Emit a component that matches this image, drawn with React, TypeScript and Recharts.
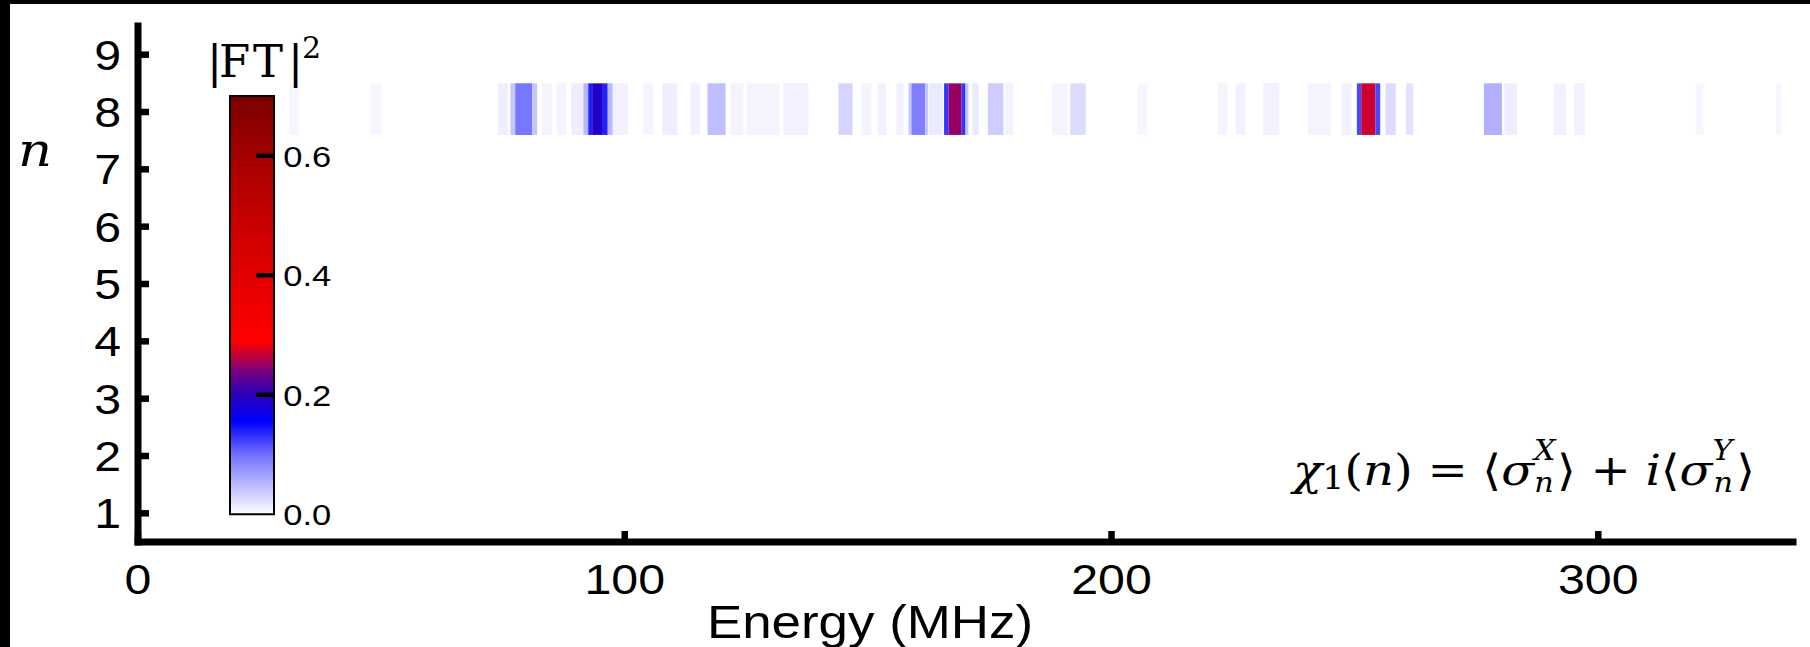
import React from 'react';
import { ComposedChart, BarChart, Bar, XAxis, YAxis, ReferenceArea, Scatter } from 'recharts';

// n = 8 row of the spectrum: energy bins (MHz) and |FT|^2
const binLo = [
  31, 47.7, 74, 76.5, 77.5, 81, 83, 86, 89, 91.5, 92.5, 93.3, 95.5, 96.5, 97.6,
  103.8, 107.7, 113.5, 117, 121.7, 125, 132.6, 143.9, 148.6, 151.9, 155.8, 158.3,
  158.9, 161.7, 162.4, 165.6, 166.5, 169.2, 170, 171.4, 174.6, 178.2, 187.8, 191.5,
  205.3, 221.8, 225.5, 231.2, 240.3, 247.3, 250.4, 251.3, 254.2, 256.3, 260.5,
  276.5, 280.7, 290.8, 295, 320, 336.5,
];
const binHi = [
  33, 50, 76, 77.5, 81, 82, 85, 88, 91.5, 92.5, 93.3, 95.5, 96.5, 97.5, 100.7,
  105.9, 110.8, 115.5, 120.7, 124.4, 131.8, 137.7, 146.8, 150.7, 153.7, 157.3, 158.9,
  161.7, 162.3, 165.3, 166.5, 169.2, 170, 170.6, 172.7, 177.8, 179.8, 191, 194.7,
  207.4, 223.8, 227.5, 234.5, 245.1, 249.3, 251.3, 254.2, 255.2, 258.4, 262,
  280.2, 283.3, 293.4, 297.2, 321.6, 337.6,
];
const binFT2 = [
  0.006, 0.006, 0.012, 0.04, 0.095, 0.04, 0.008, 0.008, 0.012, 0.05, 0.14, 0.19, 0.14, 0.05, 0.01,
  0.008, 0.012, 0.01, 0.045, 0.008, 0.008, 0.01, 0.03, 0.008, 0.01, 0.01, 0.04,
  0.09, 0.04, 0.015, 0.13, 0.25, 0.13, 0.04, 0.015, 0.035, 0.01, 0.008, 0.025,
  0.006, 0.008, 0.01, 0.01, 0.008, 0.01, 0.12, 0.27, 0.12, 0.025, 0.02,
  0.055, 0.012, 0.01, 0.01, 0.006, 0.006,
];

const rowLow = 7.6;
const rowHigh = 8.5;

const energyTicks = [0, 100, 200, 300];
const nTicks = [1, 2, 3, 4, 5, 6, 7, 8, 9];
const scaleTicks = [0, 0.2, 0.4, 0.6];
const scaleMax = 0.7;

// colour map of the |FT|^2 scale
const mapStops = [0, 0.05, 0.1, 0.155, 0.2, 0.24, 0.265, 0.29, 0.45, 0.6, 0.7];
const mapColors = ['#ffffff', '#b8b8ff', '#7070ff', '#0000ff', '#2a00b8', '#7a0080', '#c0003a', '#ff0000', '#d40000', '#a40000', '#7a0000'];

const sans = '"Liberation Sans", Arial, sans-serif';
const serif = '"DejaVu Serif", serif';
const widen = 1.15; // the figure's lettering is a bit wider than Arial

function rgb(hex: string) {
  const n = parseInt(hex.slice(1), 16);
  return [(n >> 16) & 255, (n >> 8) & 255, n & 255];
}

function ftColor(v: number) {
  const t = Math.max(0, Math.min(v, scaleMax));
  let i = 0;
  while (i < mapStops.length - 2 && t > mapStops[i + 1]) i++;
  const f = (t - mapStops[i]) / (mapStops[i + 1] - mapStops[i]);
  const a = rgb(mapColors[i]);
  const b = rgb(mapColors[i + 1]);
  const c = a.map((ch, k) => Math.round(ch + (b[k] - ch) * f));
  return `rgb(${c[0]},${c[1]},${c[2]})`;
}

const frameLine = { stroke: '#000', strokeWidth: 7, strokeLinecap: 'square' as const };
const tickLine = { stroke: '#000', strokeWidth: 6.5 };
const blank = () => '';

function Wide({ x, y, anchor, dy, size, children }: any) {
  return (
    <text transform={`translate(${x},${y}) scale(${widen},1)`} textAnchor={anchor} dy={dy}
      fontSize={size} fontFamily={sans} fill="#000">
      {children}
    </text>
  );
}

function NTick({ x, y, payload }: any) {
  return <Wide x={x} y={y} anchor="end" dy="0.36em" size={42}>{payload.value}</Wide>;
}

function EnergyTick({ x, y, payload }: any) {
  return <Wide x={x} y={y} anchor="middle" dy="0.71em" size={42}>{payload.value}</Wide>;
}

function ScaleTick({ x, y, payload }: any) {
  const edge = x - 9;
  return (
    <g>
      {payload.value > 0 && <line x1={edge - 18} x2={edge} y1={y} y2={y} stroke="#000" strokeWidth={4.5} />}
      <Wide x={x} y={y} anchor="start" dy="0.36em" size={30}>{payload.value.toFixed(1)}</Wide>
    </g>
  );
}

export default function App() {
  const cells = binLo.map((lo, i) => ({ lo, hi: binHi[i], x: (lo + binHi[i]) / 2, y: 8, v: binFT2[i] }));
  const scaleData = [{ name: 'FT', v: scaleMax }];

  return (
    <div style={{ position: 'absolute', left: 0, top: 0, width: 1810, height: 647, background: '#fff', overflow: 'hidden' }}>
      <div style={{ position: 'absolute', left: 0, top: 0 }}>
        <ComposedChart width={1810} height={647} data={cells} margin={{ top: 26, right: 17, bottom: 0, left: 0 }}>
          <XAxis xAxisId="b" type="number" dataKey="x" domain={[0, 340]} ticks={energyTicks} interval={0}
            height={105} tickSize={-11} tickMargin={33} axisLine={frameLine} tickLine={tickLine} tick={<EnergyTick />} allowDataOverflow />
          <XAxis xAxisId="t" orientation="top" type="number" dataKey="x" domain={[0, 340]} ticks={energyTicks} interval={0}
            height={0} tickSize={-11} tickFormatter={blank} axisLine={frameLine} tickLine={tickLine} allowDataOverflow />
          <YAxis yAxisId="l" type="number" domain={[0.5, 9.5]} ticks={nTicks} interval={0}
            width={138} tickSize={-11} tickMargin={28} axisLine={frameLine} tickLine={tickLine} tick={<NTick />} allowDataOverflow />
          <YAxis yAxisId="r" orientation="right" type="number" domain={[0.5, 9.5]} ticks={nTicks} interval={0}
            width={0} tickSize={-11} tickFormatter={blank} axisLine={frameLine} tickLine={tickLine} allowDataOverflow />
          {cells.map((c, i) => (
            <ReferenceArea key={i} xAxisId="b" yAxisId="l" x1={c.lo} x2={c.hi} y1={rowLow} y2={rowHigh}
              fill={ftColor(c.v)} fillOpacity={1} stroke="none" ifOverflow="visible" />
          ))}
          <Scatter xAxisId="b" yAxisId="l" dataKey="y" isAnimationActive={false} shape={() => <g />} />
        </ComposedChart>
      </div>

      <div style={{ position: 'absolute', left: 0, top: 0 }}>
        <BarChart width={400} height={647} data={scaleData} barCategoryGap={0}
          margin={{ top: 96, right: 65.7, bottom: 132.7, left: 230 }}>
          <XAxis dataKey="name" hide />
          <YAxis orientation="right" type="number" domain={[0, scaleMax]} ticks={scaleTicks} interval={0}
            width={60} tickSize={0} tickMargin={9} axisLine={false} tickLine={false} tick={<ScaleTick />} />
          <Bar dataKey="v" fill="url(#ftScale)" stroke="#000" strokeWidth={2} isAnimationActive={false} />
        </BarChart>
      </div>

      <svg width={1810} height={647} style={{ position: 'absolute', left: 0, top: 0 }}>
        <defs>
          <linearGradient id="ftScale" x1="0" y1="1" x2="0" y2="0">
            {mapStops.map((s, i) => (
              <stop key={i} offset={s / scaleMax} stopColor={mapColors[i]} />
            ))}
          </linearGradient>
        </defs>
        <text transform="translate(35,166) scale(1.15,1)" textAnchor="middle" fontSize={46}
          fontStyle="italic" fontFamily={serif}>n</text>
        <Wide x={870} y={638} anchor="middle" dy={0} size={46}>Energy (MHz)</Wide>
        <text fontFamily={serif} fontSize={45} fill="#000">
          <tspan x={207} y={77}>|</tspan>
          <tspan x={219} y={77}>F</tspan>
          <tspan x={253} y={77}>T</tspan>
          <tspan x={288} y={77}>|</tspan>
          <tspan x={302} y={58} fontSize={30}>2</tspan>
        </text>
        <text transform="translate(1755,485) scale(1.12,1)" textAnchor="end" fontFamily={serif} fontSize={43} fill="#000">
          <tspan fontStyle="italic">χ</tspan>
          <tspan fontSize={31} dy={4}>1</tspan>
          <tspan dy={-4}>(</tspan>
          <tspan fontStyle="italic">n</tspan>
          <tspan>)</tspan>
          <tspan dx={13}>=</tspan>
          <tspan dx={13}>⟨</tspan>
          <tspan fontStyle="italic">σ</tspan>
          <tspan fontStyle="italic" fontSize={27} dy={-25}>X</tspan>
          <tspan fontStyle="italic" fontSize={27} dx={-19} dy={32}>n</tspan>
          <tspan dx={3} dy={-7}>⟩</tspan>
          <tspan dx={13}>+</tspan>
          <tspan dx={13} fontStyle="italic">i</tspan>
          <tspan>⟨</tspan>
          <tspan fontStyle="italic">σ</tspan>
          <tspan fontStyle="italic" fontSize={27} dy={-25}>Y</tspan>
          <tspan fontStyle="italic" fontSize={27} dx={-17} dy={32}>n</tspan>
          <tspan dx={3} dy={-7}>⟩</tspan>
        </text>
      </svg>

      <div style={{ position: 'absolute', left: 0, top: 0, width: 1810, height: 4, background: '#000' }} />
      <div style={{ position: 'absolute', left: 0, top: 0, width: 10, height: 647, background: '#000' }} />
    </div>
  );
}
